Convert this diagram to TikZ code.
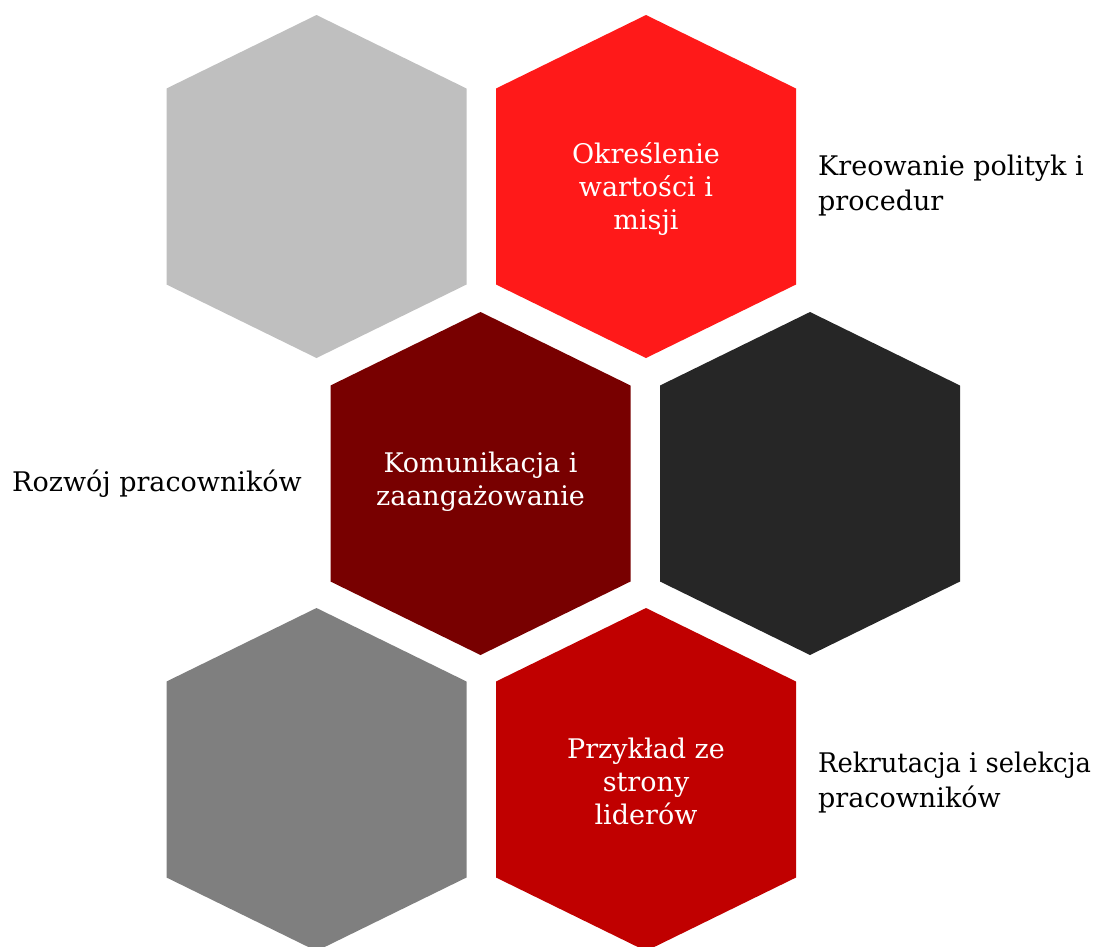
\documentclass[tikz,border=0pt]{standalone}
\usepackage{fontspec}
\usepackage{graphicx}
\setmainfont{DejaVu Serif}
\definecolor{hexSilver}{HTML}{BFBFBF}
\definecolor{hexScarlet}{HTML}{FF1919}
\definecolor{hexMaroon}{HTML}{780000}
\definecolor{hexCharcoal}{HTML}{262626}
\definecolor{hexGray}{HTML}{7F7F7F}
\definecolor{hexCrimson}{HTML}{C00000}
% one hexagonal cell: name, centre x, centre y, fill colour, caption offset, caption
\newcommand\hexcell[6]{%
  \fill[#4, shift={(#2,#3)}] (-150,-98) -- (0,-171.5) -- (150,-98) -- (150,98) -- (0,171.5) -- (-150,98) -- cycle;
  \node[hextext] (#1) at (#2,#3+#5) {#6};
}
\begin{document}
\begin{tikzpicture}[x=1pt,y=-1pt,
  hextext/.style={text=white, align=center, inner sep=0pt, font=\fontsize{27}{33}\selectfont},
  sidetext/.style={text=black, align=left, inner sep=0pt, anchor=west, font=\fontsize{27}{35}\selectfont}]
\useasboundingbox (0,0) rectangle (1099,946);
\begin{scope}
  \clip (0,0) rectangle (1099,946);
  \hexcell{hexA}{316.5}{186.5}{hexSilver}{0}{}
  \hexcell{hexB}{646}{186.5}{hexScarlet}{2.5}{Określenie\\wartości i\\misji}
  \hexcell{hexC}{480.5}{483.5}{hexMaroon}{-2}{Komunikacja i\\zaangażowanie}
  \hexcell{hexD}{810}{483.5}{hexCharcoal}{0}{}
  \hexcell{hexE}{316.5}{779.5}{hexGray}{0}{}
  \hexcell{hexF}{646}{779.5}{hexCrimson}{2}{Przykład ze\\strony\\liderów}
\end{scope}
\node[sidetext] (policy) at (818,186) {Kreowanie polityk i\\procedur};
\node[sidetext] (growth) at (12,484) {Rozwój pracowników};
\node[sidetext] (hiring) at (818,783) {\scalebox{0.955}[1]{Rekrutacja i selekcja}\\pracowników};
\end{tikzpicture}
\end{document}
